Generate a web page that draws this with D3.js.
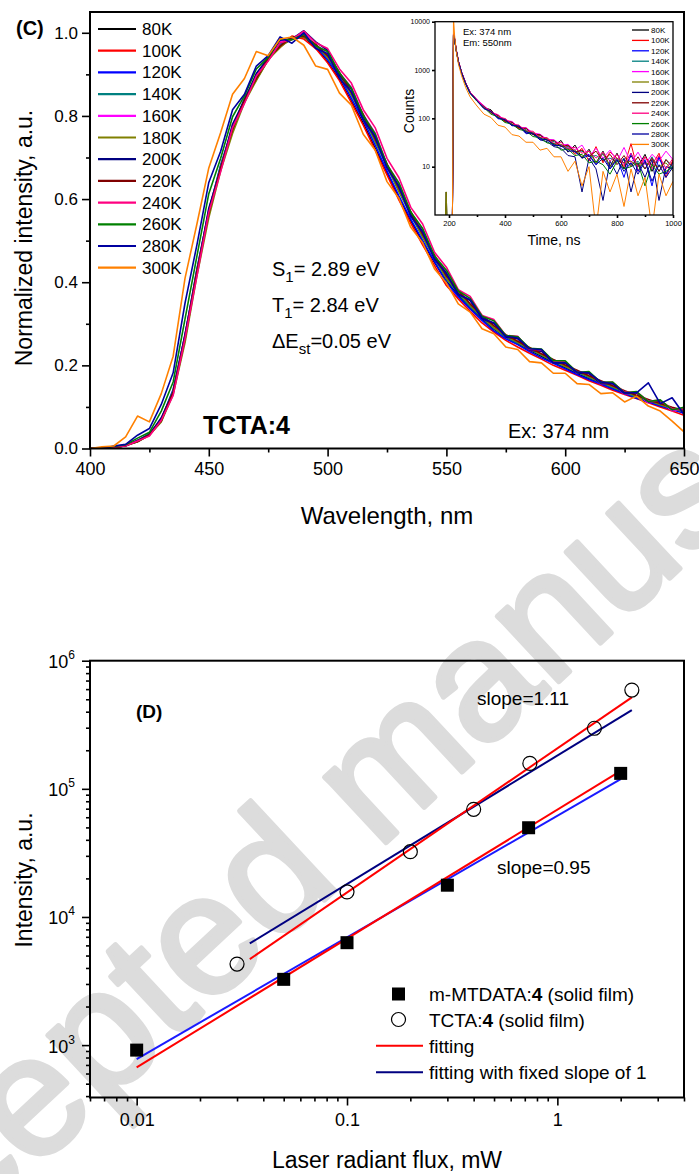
<!DOCTYPE html>
<html>
<head>
<meta charset="utf-8">
<script src="https://cdn.jsdelivr.net/npm/d3@7"></script>
<style>
  body { margin: 0; background: #fff; }
  svg { display: block; font-family: Arial, "Liberation Sans", sans-serif; }
</style>
</head>
<body>
<div id="chart"></div>
<script>
// ---------------- panel (C): PL spectra vs temperature ----------------
const temps = ["80K", "100K", "120K", "140K", "160K", "180K", "200K", "220K", "240K", "260K", "280K", "300K"];
const tempColors = ["#000000", "#ff0000", "#0000ff", "#008080", "#ff00ff", "#808000",
                    "#000080", "#800000", "#ff0080", "#008000", "#0000a0", "#ff8000"];

const wavelengths = [400, 405, 410, 415, 420, 425, 430, 435, 440, 445, 450, 455, 460, 465, 470, 475, 480,
  485, 490, 495, 500, 505, 510, 515, 520, 525, 530, 535, 540, 545, 550, 555, 560, 565, 570, 575, 580,
  585, 590, 595, 600, 605, 610, 615, 620, 625, 630, 635, 640, 645, 650];

const s80 = [0,0,0.002,0.007,0.016,0.033,0.066,0.135,0.262,0.425,0.565,0.675,0.765,0.838,0.888,0.935,0.968,0.985,0.99,0.965,0.93,0.888,0.835,0.782,0.722,0.662,0.603,0.548,0.497,0.448,0.402,0.368,0.338,0.312,0.287,0.268,0.252,0.236,0.222,0.207,0.194,0.18,0.168,0.157,0.145,0.133,0.123,0.113,0.104,0.095,0.086];
const s100 = [0,0,0.003,0.007,0.017,0.034,0.068,0.138,0.265,0.428,0.566,0.678,0.768,0.836,0.892,0.938,0.965,0.992,0.985,0.962,0.928,0.885,0.832,0.778,0.718,0.658,0.598,0.542,0.49,0.44,0.392,0.36,0.33,0.302,0.28,0.26,0.244,0.229,0.215,0.2,0.188,0.176,0.163,0.152,0.14,0.13,0.12,0.11,0.1,0.09,0.08];
const s120 = [0,0,0.003,0.008,0.018,0.036,0.07,0.142,0.272,0.432,0.572,0.682,0.772,0.842,0.893,0.942,0.972,0.99,0.992,0.968,0.935,0.895,0.842,0.79,0.73,0.668,0.608,0.552,0.5,0.45,0.4,0.365,0.336,0.308,0.283,0.264,0.25,0.233,0.218,0.205,0.192,0.178,0.166,0.155,0.143,0.132,0.121,0.112,0.102,0.094,0.085];
const s140 = [0,0,0.003,0.008,0.018,0.035,0.07,0.14,0.27,0.43,0.57,0.68,0.77,0.84,0.89,0.94,0.97,0.99,0.99,0.97,0.94,0.9,0.85,0.798,0.738,0.678,0.618,0.562,0.508,0.458,0.408,0.372,0.342,0.314,0.289,0.268,0.254,0.238,0.224,0.209,0.197,0.184,0.171,0.159,0.147,0.135,0.124,0.115,0.105,0.096,0.088];
const s160 = [0,0,0.003,0.007,0.019,0.032,0.072,0.134,0.273,0.422,0.575,0.672,0.779,0.834,0.9,0.934,0.979,0.986,1.0,0.969,0.955,0.903,0.869,0.803,0.759,0.683,0.639,0.568,0.527,0.461,0.425,0.375,0.357,0.313,0.302,0.268,0.265,0.236,0.235,0.206,0.207,0.181,0.182,0.155,0.157,0.131,0.134,0.11,0.114,0.091,0.094];
const s180 = [0,0,0.002,0.007,0.016,0.032,0.064,0.13,0.255,0.415,0.555,0.668,0.758,0.832,0.885,0.935,0.965,0.988,0.99,0.972,0.942,0.902,0.852,0.8,0.742,0.68,0.62,0.565,0.51,0.46,0.41,0.376,0.345,0.316,0.291,0.27,0.256,0.24,0.226,0.211,0.198,0.186,0.173,0.16,0.149,0.137,0.126,0.116,0.106,0.097,0.089];
const s200 = [0,0,0.004,0.006,0.02,0.033,0.074,0.136,0.275,0.422,0.578,0.672,0.78,0.838,0.902,0.94,0.982,0.985,1.005,0.978,0.958,0.898,0.865,0.798,0.752,0.678,0.632,0.562,0.522,0.458,0.422,0.372,0.356,0.312,0.3,0.268,0.264,0.236,0.234,0.206,0.206,0.182,0.18,0.156,0.156,0.132,0.134,0.112,0.114,0.094,0.094];
const s220 = [0,0,0.002,0.007,0.017,0.033,0.067,0.136,0.266,0.426,0.566,0.676,0.768,0.838,0.89,0.938,0.968,0.99,0.992,0.972,0.945,0.905,0.856,0.804,0.745,0.685,0.626,0.57,0.515,0.465,0.415,0.38,0.348,0.32,0.295,0.274,0.258,0.243,0.228,0.214,0.201,0.188,0.175,0.163,0.151,0.139,0.128,0.118,0.108,0.099,0.092];
const s240 = [0,0,0.003,0.006,0.018,0.03,0.068,0.128,0.265,0.415,0.568,0.666,0.772,0.83,0.896,0.932,0.976,0.984,1.004,0.976,0.962,0.913,0.879,0.815,0.772,0.698,0.652,0.58,0.54,0.472,0.436,0.382,0.366,0.32,0.31,0.272,0.27,0.238,0.238,0.21,0.209,0.184,0.183,0.159,0.159,0.135,0.136,0.114,0.116,0.095,0.096];
const s260 = [0,0,0.005,0.009,0.025,0.039,0.09,0.16,0.312,0.463,0.613,0.698,0.798,0.848,0.913,0.941,0.985,0.983,0.996,0.968,0.955,0.903,0.867,0.801,0.757,0.683,0.639,0.569,0.529,0.463,0.429,0.379,0.361,0.318,0.307,0.272,0.269,0.241,0.239,0.211,0.211,0.183,0.185,0.159,0.16,0.134,0.137,0.113,0.117,0.093,0.099];
const s280 = [0,0,0.006,0.01,0.032,0.048,0.106,0.182,0.35,0.49,0.64,0.715,0.815,0.852,0.92,0.945,0.99,0.975,1.0,0.962,0.95,0.89,0.858,0.79,0.75,0.675,0.63,0.558,0.52,0.455,0.42,0.37,0.358,0.314,0.302,0.27,0.266,0.24,0.238,0.206,0.206,0.184,0.182,0.16,0.156,0.134,0.134,0.158,0.108,0.122,0.082];
const s300 = [0,0.004,0.006,0.028,0.078,0.064,0.132,0.222,0.41,0.54,0.675,0.76,0.852,0.89,0.955,0.945,0.985,0.99,0.97,0.92,0.912,0.855,0.826,0.756,0.718,0.642,0.602,0.532,0.495,0.432,0.398,0.348,0.328,0.288,0.276,0.244,0.238,0.209,0.206,0.181,0.181,0.156,0.154,0.132,0.134,0.112,0.126,0.102,0.09,0.066,0.04];
const spectra = [s80, s100, s120, s140, s160, s180, s200, s220, s240, s260, s280, s300];

const cXTicks = [400, 450, 500, 550, 600, 650];
const cXMinor = [425, 475, 525, 575, 625];
const cYTicks = [0, 0.2, 0.4, 0.6, 0.8, 1.0];
const cYMinor = [0.1, 0.3, 0.5, 0.7, 0.9];

// inset: transient decays (Ex 374 nm, Em 550 nm)
const decayTimes = [186, 190, 194, 212, 216, 220, 226, 234, 245, 260, 275, 300, 325, 350, 375, 400, 425, 450,
  475, 500, 525, 550, 575, 600, 625, 650, 675, 700, 725, 750, 775, 800, 825, 850, 875, 900, 925, 950, 975, 1000];
const d80 = [0.5,3,0.5,0.5,5200,4300,2500,1450,880,520,350,235,168,150,100,98,74,70,54,50,40,39,27,35,20,28,15,23,12,21,10,19,9,17,10,18,8,16,7,13];
const d100 = [0.5,0.5,0.5,0.5,5500,4500,2600,1500,900,530,345,240,180,125,120,84,86,60,64,46,44,36,30,28,27,18,24,13,26,12,20,15,10,30,8,16,11,19,6,14];
const d120 = [0.5,0.5,0.5,0.5,5000,4200,2500,1400,860,510,330,230,158,142,98,94,70,72,48,50,36,37,28,27,24,20,16,18,11,19,9,15,6,19,8,14,4,16,7,12];
const d140 = [0.5,0.5,0.5,0.5,5300,4400,2550,1480,890,525,342,238,175,132,114,90,82,66,58,47,45,35,33,27,26,20,21,16,17,14,15,13,14,11,13,9,16,8,14,9];
const d160 = [0.5,0.5,0.5,0.5,5600,4600,2650,1520,910,540,352,245,182,136,118,92,86,65,64,50,47,37,36,28,29,22,28,16,24,15,22,13,25,12,20,11,18,13,21,14];
const d180 = [0.5,3,0.5,0.5,5100,4350,2520,1460,875,518,338,232,160,142,102,95,73,70,54,51,40,38,30,29,23,22,16,21,12,19,10,15,12,13,10,12,11,10,12,8];
const d200 = [0.5,0.5,0.5,0.5,5400,4400,2580,1490,895,528,348,240,166,136,106,90,72,66,50,47,36,33,26,24,17,16,3,15,9,2,13,7,15,3,12,6,14,2,10,9];
const d220 = [0.5,0.5,0.5,0.5,5300,4450,2560,1470,885,522,344,236,175,134,114,88,83,63,62,47,46,35,35,26,28,20,22,16,21,13,18,11,17,10,16,9,15,8,14,10];
const d240 = [0.5,0.5,0.5,0.5,5450,4520,2600,1500,900,532,350,242,168,142,108,99,77,72,55,54,40,40,30,32,24,25,19,21,15,20,13,18,11,19,10,16,9,17,9,15];
const d260 = [0.5,0.5,0.5,0.5,5200,4300,2480,1430,860,505,330,225,166,122,107,82,76,59,55,42,40,31,30,22,23,17,18,12,13,11,7,13,9,10,12,4,11,7,8,10];
const d280 = [0.5,0.5,0.5,0.5,5300,4380,2530,1460,870,515,336,232,160,139,101,94,72,69,52,49,38,36,28,27,21,21,15,17,11,15,9,14,8,12,7,13,5,11,6,10];
const d300 = [0.5,0.5,0.5,0.5,12000,5200,2400,1300,760,430,280,180,122,104,72,66,46,43,32,32,22,24,16,16,8,13,4,10,0.5,8,3,7,1.5,9,2.5,6,0.5,7,2.5,5];
const decays = [d80, d100, d120, d140, d160, d180, d200, d220, d240, d260, d280, d300];

const iXTicks = [200, 400, 600, 800, 1000];
const iXMinor = [300, 500, 700, 900];
const iYTicks = [10, 100, 1000, 10000];

// ---------------- panel (D): intensity vs laser flux ----------------
const mtdataFlux = [0.01, 0.05, 0.1, 0.3, 0.73, 2.0];
const mtdataInt = [914, 3260, 6300, 17700, 49700, 132000];
const tctaFlux = [0.03, 0.1, 0.2, 0.4, 0.74, 1.5, 2.26];
const tctaInt = [4290, 15700, 32300, 69200, 158000, 297000, 590000];
// fitted lines, end points
const fitTctaRed = [[0.0345, 4690], [2.26, 518000]];
const fitTctaFixed = [[0.0345, 6220], [2.26, 412000]];
const fitMtdataRed = [[0.01, 670], [2.0, 138000]];
const fitMtdataFixed = [[0.01, 778], [2.0, 119000]];

const dXTicks = [0.01, 0.1, 1];
const dYTicks = [1e3, 1e4, 1e5, 1e6];
const decadeSteps = [2, 3, 4, 5, 6, 7, 8, 9];

const W = 699, H = 1174;
const svg = d3.select("#chart").append("svg")
  .attr("width", W).attr("height", H);

// watermark behind everything
svg.append("text")
  .attr("transform", "translate(405,825) rotate(-43)")
  .attr("text-anchor", "middle")
  .attr("fill", "#dcdcdc")
  .attr("stroke", "#dcdcdc")
  .attr("stroke-width", 5)
  .attr("stroke-linejoin", "round")
  .style("font-size", "170px")
  .text("Accepted manuscript");

function styleAxis(g, fontSize) {
  g.select(".domain").remove();
  g.selectAll(".tick line").attr("stroke", "#000").attr("stroke-width", 1.6);
  g.selectAll(".tick text").attr("fill", "#000").style("font-size", fontSize + "px");
}

// ================= panel C =================
const cL = 90, cR = 684, cT = 12, cB = 448.5;
const xC = d3.scaleLinear().domain([400, 650]).range([cL, cR]);
const yC = d3.scaleLinear().domain([0, 1.05]).range([cB, cT]);

svg.append("defs").append("clipPath").attr("id", "clipC")
  .append("rect").attr("x", cL).attr("y", cT).attr("width", cR - cL).attr("height", cB - cT);

const lineC = d3.line().x((d, i) => xC(wavelengths[i])).y(d => yC(d));
svg.append("g").attr("clip-path", "url(#clipC)")
  .selectAll("path").data(spectra).join("path")
  .attr("d", lineC)
  .attr("fill", "none")
  .attr("stroke", (d, i) => tempColors[i])
  .attr("stroke-width", 1.6)
  .attr("stroke-linejoin", "round");

svg.append("g").attr("transform", `translate(0,${cB})`)
  .call(d3.axisBottom(xC).tickValues(cXTicks).tickSize(8).tickPadding(6).tickFormat(d3.format("d")))
  .call(g => styleAxis(g, 18));
svg.append("g").attr("transform", `translate(0,${cB})`)
  .call(d3.axisBottom(xC).tickValues(cXMinor).tickSize(4).tickFormat(""))
  .call(g => styleAxis(g, 18));
svg.append("g").attr("transform", `translate(${cL},0)`)
  .call(d3.axisLeft(yC).tickValues(cYTicks).tickSize(8).tickPadding(4).tickFormat(d3.format(".1f")))
  .call(g => styleAxis(g, 17));
svg.append("g").attr("transform", `translate(${cL},0)`)
  .call(d3.axisLeft(yC).tickValues(cYMinor).tickSize(4).tickFormat(""))
  .call(g => styleAxis(g, 17));

svg.append("rect").attr("x", cL).attr("y", cT).attr("width", cR - cL).attr("height", cB - cT)
  .attr("fill", "none").attr("stroke", "#000").attr("stroke-width", 2);

// legend
const legC = svg.append("g").attr("transform", "translate(98,29)");
const legCItems = legC.selectAll("g").data(temps).join("g")
  .attr("transform", (d, i) => `translate(0,${i * 21.7})`);
legCItems.append("line").attr("x1", 0).attr("x2", 38)
  .attr("stroke", (d, i) => tempColors[i]).attr("stroke-width", 2.2);
legCItems.append("text").attr("x", 44).attr("y", 6)
  .style("font-size", "17px").text(d => d);

svg.append("text").attr("x", 16).attr("y", 35)
  .style("font-size", "20px").style("font-weight", "bold").text("(C)");

// S1 / T1 / dEst
const ann = [["S", "1", "= 2.89 eV", 276], ["T", "1", "= 2.84 eV", 312], ["\u0394E", "st", "=0.05 eV", 348]];
ann.forEach(a => {
  const t = svg.append("text").attr("x", 272).attr("y", a[3]).style("font-size", "20px");
  t.append("tspan").text(a[0]);
  t.append("tspan").attr("dy", 6).style("font-size", "15px").text(a[1]);
  t.append("tspan").attr("dy", -6).text(a[2]);
});
svg.append("text").attr("x", 203).attr("y", 434)
  .style("font-size", "25px").style("font-weight", "bold").text("TCTA:4");
svg.append("text").attr("x", 508).attr("y", 438)
  .style("font-size", "20px").text("Ex: 374 nm");

svg.append("text").attr("x", (cL + cR) / 2).attr("y", 524)
  .attr("text-anchor", "middle").style("font-size", "24px").text("Wavelength, nm");
svg.append("text").attr("transform", `translate(32,238) rotate(-90)`)
  .attr("text-anchor", "middle").style("font-size", "23px").text("Normalized intensity, a.u.");

// ---------------- inset ----------------
const iL = 435, iR = 673, iT = 21.7, iB = 215;
const xI = d3.scaleLinear().domain([150, 1000]).range([iL, iR]);
const yI = d3.scaleLog().domain([1, 10000]).range([iB, iT]);

svg.append("defs").append("clipPath").attr("id", "clipI")
  .append("rect").attr("x", iL).attr("y", iT).attr("width", iR - iL).attr("height", iB - iT);

const lineI = d3.line().x((d, i) => xI(decayTimes[i])).y(d => yI(d));
svg.append("g").attr("clip-path", "url(#clipI)")
  .selectAll("path").data(decays).join("path")
  .attr("d", lineI)
  .attr("fill", "none")
  .attr("stroke", (d, i) => tempColors[i])
  .attr("stroke-width", 1)
  .attr("stroke-linejoin", "round");

svg.append("g").attr("transform", `translate(0,${iB})`)
  .call(d3.axisBottom(xI).tickValues(iXTicks).tickSize(3).tickPadding(3).tickFormat(d3.format("d")))
  .call(g => styleAxis(g, 7.5));
svg.append("g").attr("transform", `translate(0,${iB})`)
  .call(d3.axisBottom(xI).tickValues(iXMinor).tickSize(2).tickFormat(""))
  .call(g => styleAxis(g, 7.5));
svg.append("g").attr("transform", `translate(${iL},0)`)
  .call(d3.axisLeft(yI).tickValues(iYTicks).tickSize(3).tickPadding(2).tickFormat(d3.format("d")))
  .call(g => styleAxis(g, 7));

svg.append("rect").attr("x", iL).attr("y", iT).attr("width", iR - iL).attr("height", iB - iT)
  .attr("fill", "none").attr("stroke", "#000").attr("stroke-width", 1.3);

const legI = svg.append("g").attr("transform", "translate(632,30)");
const legIItems = legI.selectAll("g").data(temps).join("g")
  .attr("transform", (d, i) => `translate(0,${i * 10.4})`);
legIItems.append("line").attr("x1", 0).attr("x2", 17)
  .attr("stroke", (d, i) => tempColors[i]).attr("stroke-width", 1.3);
legIItems.append("text").attr("x", 19).attr("y", 3)
  .style("font-size", "8px").text(d => d);

svg.append("text").attr("x", 463).attr("y", 34.5).style("font-size", "9.5px").text("Ex:  374 nm");
svg.append("text").attr("x", 463).attr("y", 46).style("font-size", "9.5px").text("Em: 550nm");
svg.append("text").attr("x", (iL + iR) / 2).attr("y", 245)
  .attr("text-anchor", "middle").style("font-size", "14px").text("Time, ns");
svg.append("text").attr("transform", "translate(414,111) rotate(-90)")
  .attr("text-anchor", "middle").style("font-size", "14px").text("Counts");

// ================= panel D =================
const dL = 90, dR = 684, dT = 660.7, dB = 1097.5;
const xD = d3.scaleLog().domain([0.006, 4]).range([dL, dR]);
const yD = d3.scaleLog().domain([390, 1e6]).range([dB, dT]);

const dXMinor = [0.001, 0.01, 0.1, 1].flatMap(p => decadeSteps.map(k => k * p))
  .filter(v => v >= 0.006 && v <= 4.0001);
const dYMinor = [100, 1e3, 1e4, 1e5].flatMap(p => decadeSteps.map(k => k * p))
  .filter(v => v >= 390 && v <= 1e6);

svg.append("g").attr("transform", `translate(0,${dB})`)
  .call(d3.axisBottom(xD).tickValues(dXTicks).tickSize(8).tickPadding(8).tickFormat(d => String(d)))
  .call(g => styleAxis(g, 18));
svg.append("g").attr("transform", `translate(0,${dB})`)
  .call(d3.axisBottom(xD).tickValues(dXMinor).tickSize(4).tickFormat(""))
  .call(g => styleAxis(g, 18));

const yAxD = svg.append("g").attr("transform", `translate(${dL},0)`)
  .call(d3.axisLeft(yD).tickValues(dYTicks).tickSize(8).tickFormat(""))
  .call(g => styleAxis(g, 18));
svg.append("g").attr("transform", `translate(${dL},0)`)
  .call(d3.axisLeft(yD).tickValues(dYMinor).tickSize(4).tickFormat(""))
  .call(g => styleAxis(g, 18));
// power-of-ten labels with superscripts
yAxD.selectAll(".tick").append("text")
  .attr("x", -15).attr("y", 7).attr("text-anchor", "end").attr("fill", "#000")
  .style("font-size", "18px")
  .each(function(d) {
    const t = d3.select(this);
    t.append("tspan").text("10");
    t.append("tspan").attr("dy", -9).style("font-size", "12px").text(Math.round(Math.log10(d)));
  });

svg.append("rect").attr("x", dL).attr("y", dT).attr("width", dR - dL).attr("height", dB - dT)
  .attr("fill", "none").attr("stroke", "#000").attr("stroke-width", 2);

const lineD = d3.line().x(d => xD(d[0])).y(d => yD(d[1]));
const fits = [
  { pts: fitMtdataFixed, color: "#1a1aff" },
  { pts: fitMtdataRed, color: "#ff0000" },
  { pts: fitTctaFixed, color: "#000080" },
  { pts: fitTctaRed, color: "#ff0000" }
];
svg.append("g").selectAll("path").data(fits).join("path")
  .attr("d", d => lineD(d.pts))
  .attr("fill", "none").attr("stroke", d => d.color).attr("stroke-width", 2);

svg.append("g").selectAll("rect").data(mtdataFlux).join("rect")
  .attr("x", d => xD(d) - 6.5)
  .attr("y", (d, i) => yD(mtdataInt[i]) - 6.5)
  .attr("width", 13).attr("height", 13).attr("fill", "#000");
svg.append("g").selectAll("circle").data(tctaFlux).join("circle")
  .attr("cx", d => xD(d))
  .attr("cy", (d, i) => yD(tctaInt[i]))
  .attr("r", 7).attr("fill", "none").attr("stroke", "#000").attr("stroke-width", 1.2);

svg.append("text").attr("x", 136).attr("y", 718)
  .style("font-size", "19px").style("font-weight", "bold").text("(D)");
svg.append("text").attr("x", 477).attr("y", 705).style("font-size", "19px").text("slope=1.11");
svg.append("text").attr("x", 497).attr("y", 874).style("font-size", "19px").text("slope=0.95");

// legend D
const legD = svg.append("g");
legD.append("rect").attr("x", 392).attr("y", 987.5).attr("width", 13).attr("height", 13).attr("fill", "#000");
legD.append("circle").attr("cx", 398.5).attr("cy", 1019.5).attr("r", 7)
  .attr("fill", "none").attr("stroke", "#000").attr("stroke-width", 1.2);
legD.append("line").attr("x1", 376).attr("x2", 423).attr("y1", 1045.7).attr("y2", 1045.7)
  .attr("stroke", "#ff0000").attr("stroke-width", 2);
legD.append("line").attr("x1", 376).attr("x2", 423).attr("y1", 1072.3).attr("y2", 1072.3)
  .attr("stroke", "#000080").attr("stroke-width", 2);
const legDText = [
  ["m-MTDATA:", "4", " (solid film)", 1001],
  ["TCTA:", "4", " (solid film)", 1027],
  ["fitting", "", "", 1053],
  ["fitting with fixed slope of 1", "", "", 1079]
];
legDText.forEach(r => {
  const t = legD.append("text").attr("x", 429).attr("y", r[3]).style("font-size", "19px");
  t.append("tspan").text(r[0]);
  if (r[1]) t.append("tspan").style("font-weight", "bold").text(r[1]);
  if (r[2]) t.append("tspan").text(r[2]);
});

svg.append("text").attr("x", (dL + dR) / 2).attr("y", 1168)
  .attr("text-anchor", "middle").style("font-size", "23px").text("Laser radiant flux, mW");
svg.append("text").attr("transform", `translate(32,880) rotate(-90)`)
  .attr("text-anchor", "middle").style("font-size", "23px").text("Intensity, a.u.");
</script>
</body>
</html>
